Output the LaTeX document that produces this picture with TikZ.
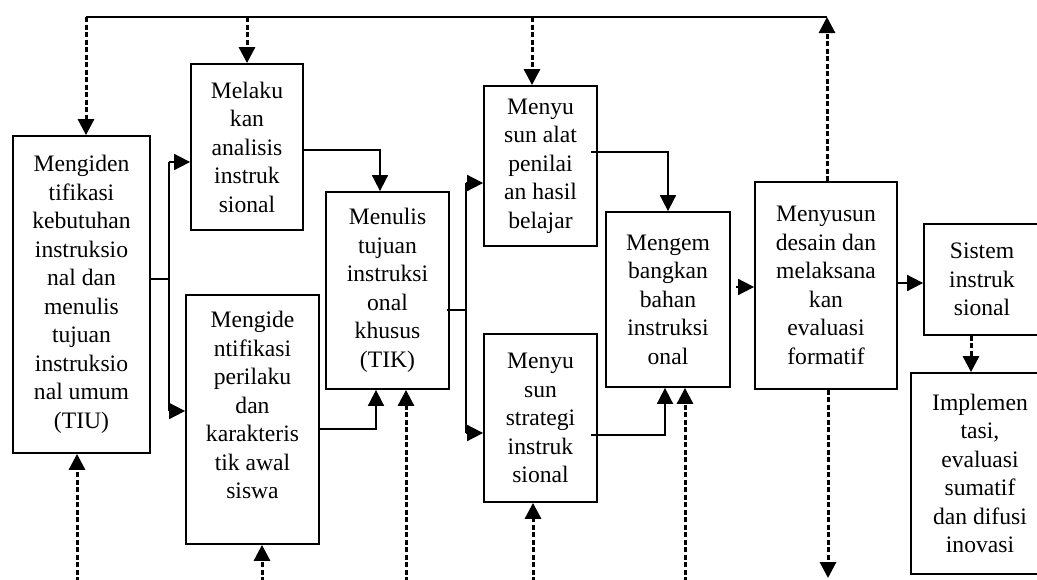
\documentclass[tikz,border=0pt]{standalone}
\usepackage{fontspec}
\setmainfont{Liberation Serif}
\usetikzlibrary{arrows.meta}
\begin{document}
\begin{tikzpicture}
[x=1pt,y=-1pt,
blok/.style={draw,line width=1.8pt,inner sep=0pt,align=center,
  font=\fontsize{23.6}{28.5}\selectfont},
aliran/.style={line width=1.8pt,-{Triangle[length=16pt,width=16pt]}},
balik/.style={line width=3pt,dash pattern=on 5pt off 2.5pt,-{Triangle[length=16pt,width=16pt]}}]
\useasboundingbox (0,0) rectangle (1037,579);
%kotak
	\node[blok,minimum width=137pt,minimum height=317pt] (tiu) at (81.5,294.5)
	  {Mengiden\\tifikasi\\kebutuhan\\instruksio\\nal dan\\menulis\\tujuan\\instruksio\\nal umum\\(TIU)};
	\node[blok,minimum width=112pt,minimum height=166pt] (analisis) at (247,147)
	  {Melaku\\kan\\analisis\\instruk\\sional};
	\node[blok,minimum width=133pt,minimum height=249pt] (perilaku) at (252.5,419.5)
	  {Mengide\\ntifikasi\\perilaku\\dan\\karakteris\\tik awal\\siswa\\ \mbox{}};
	\node[blok,minimum width=123pt,minimum height=197pt] (tik) at (387.5,290.5)
	  {Menulis\\tujuan\\instruksi\\onal\\khusus\\(TIK)};
	\node[blok,minimum width=113pt,minimum height=160pt] (alat) at (540.5,166)
	  {Menyu\\sun alat\\penilai\\an hasil\\belajar};
	\node[blok,minimum width=113pt,minimum height=168pt] (strategi) at (540.5,418)
	  {Menyu\\sun\\strategi\\instruk\\sional};
	\node[blok,minimum width=124pt,minimum height=175pt] (bahan) at (668,299.5)
	  {Mengem\\bangkan\\bahan\\instruksi\\onal};
	\node[blok,minimum width=142pt,minimum height=207pt] (formatif) at (826,285.5)
	  {Menyusun\\desain dan\\melaksana\\kan\\evaluasi\\formatif};
	\node[blok,minimum width=116pt,minimum height=111pt] (sistem) at (982,279.5)
	  {Sistem\\instruk\\sional};
	\node[blok,minimum width=138pt,minimum height=201pt] (implementasi) at (980,473.5)
	  {Implemen\\tasi,\\evaluasi\\sumatif\\dan difusi\\inovasi};
%titik bantu
	\coordinate (j1) at (169,279);
	\coordinate (j1a) at (169,162);
	\coordinate (j1b) at (169,411);
	\coordinate (j2) at (466,310);
	\coordinate (j2a) at (466,183);
	\coordinate (j2b) at (466,433);
	\coordinate (ki) at (86,17);
	\coordinate (ka) at (827,17);
	\coordinate (t3) at (532,17);
	\coordinate (s1) at (971,0);
%garis utama
	\draw[line width=1.8pt] (tiu.east |- j1) -- (j1);
	\draw[line width=1.8pt] (j1a) -- (j1b);
	\draw[aliran] (j1a) -- (analisis.west |- j1a);
	\draw[aliran] (j1b) -- (perilaku.west |- j1b);
	\draw[aliran] (analisis.east |- 0,150) -| ([xshift=-7.5pt]tik.north);
	\draw[aliran] (perilaku.east |- 0,429) -| ([xshift=-11.5pt]tik.south);
	\draw[line width=1.8pt] ([xshift=-3pt]tik.east |- j2) -- (j2);
	\draw[line width=1.8pt] (j2a) -- (j2b);
	\draw[aliran] (j2a) -- (alat.west |- j2a);
	\draw[aliran] (j2b) -- (strategi.west |- j2b);
	\draw[aliran] ([xshift=-7pt]alat.east |- 0,152) -| (bahan.north);
	\draw[aliran] ([xshift=-7pt]strategi.east |- 0,435) -| ([xshift=-3pt]bahan.south);
	\draw[aliran] ([xshift=5pt]bahan.east |- 0,287) -- (formatif.west |- 0,287);
	\draw[aliran] (formatif.east |- 0,283) -- (sistem.west |- 0,283);
%umpan balik
	\draw[line width=1.8pt] (ki) -- (ka);
	\draw[balik] (formatif.north -| ka) -- (ka);
	\draw[balik] (ki) -- (tiu.north -| ki);
	\draw[balik] (analisis.north |- ki) -- (analisis.north);
	\draw[balik] (t3) -- (alat.north -| t3);
	\draw[balik] (sistem.south -| s1) -- (implementasi.north -| s1);
\foreach \x / \k in {77/tiu,262/perilaku,406/tik,533/strategi,685/bahan}
{
	\draw[balik] (\x,582) -- (\k.south -| \x,0);
}
	\draw[balik] (formatif.south -| 828,0) -- (828,578);
\end{tikzpicture}
\end{document}
